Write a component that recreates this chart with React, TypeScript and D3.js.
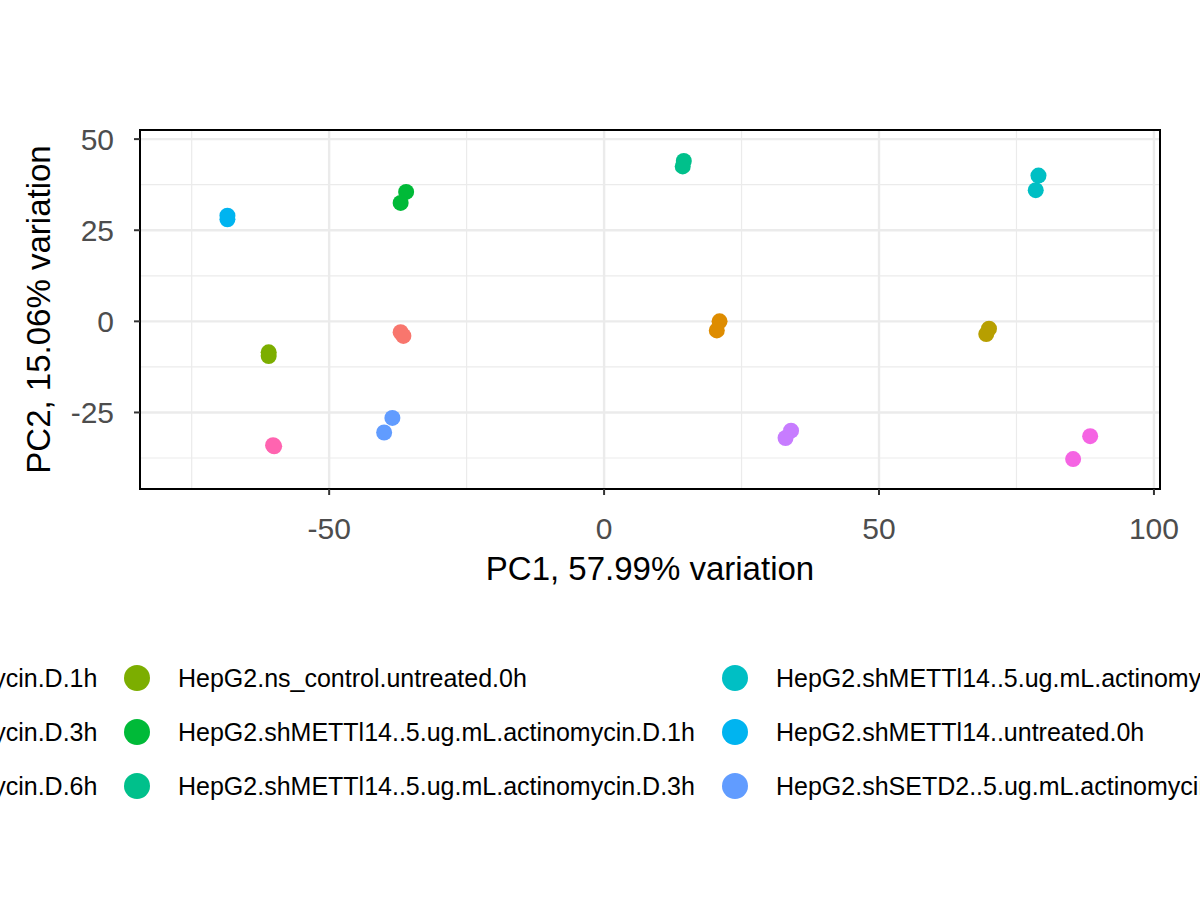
import React from 'react';
import * as d3 from 'd3';

const groups = [
  'HepG2.ns_control..5.ug.mL.actinomycin.D.1h',
  'HepG2.ns_control..5.ug.mL.actinomycin.D.3h',
  'HepG2.ns_control..5.ug.mL.actinomycin.D.6h',
  'HepG2.ns_control.untreated.0h',
  'HepG2.shMETTl14..5.ug.mL.actinomycin.D.1h',
  'HepG2.shMETTl14..5.ug.mL.actinomycin.D.3h',
  'HepG2.shMETTl14..5.ug.mL.actinomycin.D.6h',
  'HepG2.shMETTl14..untreated.0h',
  'HepG2.shSETD2..5.ug.mL.actinomycin.D.1h',
  'HepG2.shSETD2..5.ug.mL.actinomycin.D.3h',
  'HepG2.shSETD2..5.ug.mL.actinomycin.D.6h',
  'HepG2.shSETD2..untreated.0h',
];
const colors = ['#F8766D', '#DE8C00', '#B79F00', '#7CAE00', '#00BA38', '#00C08B',
  '#00BFC4', '#00B4F0', '#619CFF', '#C77CFF', '#F564E3', '#FF64B0'];

// [group index, PC1, PC2]
const points: [number, number, number][] = [
  [0, -37, -3], [0, -36.5, -4],
  [1, 21, 0], [1, 20.5, -2.5],
  [2, 70, -2], [2, 69.5, -3.5],
  [3, -61, -8.5], [3, -61, -9.5],
  [4, -36, 35.5], [4, -37, 32.5],
  [5, 14.5, 44], [5, 14.3, 42.5],
  [6, 79, 40], [6, 78.5, 36],
  [7, -68.5, 29], [7, -68.5, 28],
  [8, -38.5, -26.5], [8, -40, -30.5],
  [9, 34, -30], [9, 33, -32],
  [10, 88.4, -31.5], [10, 85.3, -37.8],
  [11, -60.2, -34], [11, -60, -34.3],
];

const xMajor = [-50, 0, 50, 100];
const xMinor = [-75, -25, 25, 75];
const yMajor = [-25, 0, 25, 50];
const yMinor = [-37.5, -12.5, 12.5, 37.5];

export default function App() {
  const L = 140, R = 1160, T = 130, B = 489;
  const x = d3.scaleLinear().domain([-84.4, 101.1]).range([L, R]);
  const y = d3.scaleLinear().domain([-46, 52.5]).range([B, T]);
  const font = 'Liberation Sans, Arial, sans-serif';
  return (
    <svg width={1200} height={900} style={{ position: 'absolute', left: 0, top: 0, fontFamily: font }}>
      <rect width={1200} height={900} fill="white" />
      {xMinor.map(v => <line key={'xm' + v} x1={x(v)} x2={x(v)} y1={T} y2={B} stroke="#EBEBEB" strokeWidth={1.2} />)}
      {yMinor.map(v => <line key={'ym' + v} y1={y(v)} y2={y(v)} x1={L} x2={R} stroke="#EBEBEB" strokeWidth={1.2} />)}
      {xMajor.map(v => <line key={'xM' + v} x1={x(v)} x2={x(v)} y1={T} y2={B} stroke="#EBEBEB" strokeWidth={2.4} />)}
      {yMajor.map(v => <line key={'yM' + v} y1={y(v)} y2={y(v)} x1={L} x2={R} stroke="#EBEBEB" strokeWidth={2.4} />)}
      {points.map(([g, a, b], i) => <circle key={i} cx={x(a)} cy={y(b)} r={8} fill={colors[g]} />)}
      <rect x={L} y={T} width={R - L} height={B - T} fill="none" stroke="black" strokeWidth={2} />
      {xMajor.map(v => (
        <g key={'xt' + v}>
          <line x1={x(v)} x2={x(v)} y1={B} y2={B + 6} stroke="#333" strokeWidth={2} />
          <text x={x(v)} y={B + 50} textAnchor="middle" fontSize={30} fill="#4D4D4D">{v < 0 ? '-' + -v : v}</text>
        </g>
      ))}
      {yMajor.map(v => (
        <g key={'yt' + v}>
          <line x1={L - 6} x2={L} y1={y(v)} y2={y(v)} stroke="#333" strokeWidth={2} />
          <text x={L - 26} y={y(v) + 11} textAnchor="end" fontSize={30} fill="#4D4D4D">{v < 0 ? '-' + -v : v}</text>
        </g>
      ))}
      <text x={(L + R) / 2} y={580} textAnchor="middle" fontSize={33}>PC1, 57.99% variation</text>
      <text transform={`translate(50,${(T + B) / 2}) rotate(-90)`} textAnchor="middle" fontSize={33}>PC2, 15.06% variation</text>
      {groups.map((g, i) => {
        const col = Math.floor(i / 3), row = i % 3;
        const kx = col === 0 ? -448 : 137 + (col - 1) * 598, ky = 678 + row * 54;
        return (
          <g key={g}>
            <circle cx={kx} cy={ky} r={13} fill={colors[i]} />
            <text x={kx + 41} y={ky + 9} fontSize={25}>{g}</text>
          </g>
        );
      })}
    </svg>
  );
}
